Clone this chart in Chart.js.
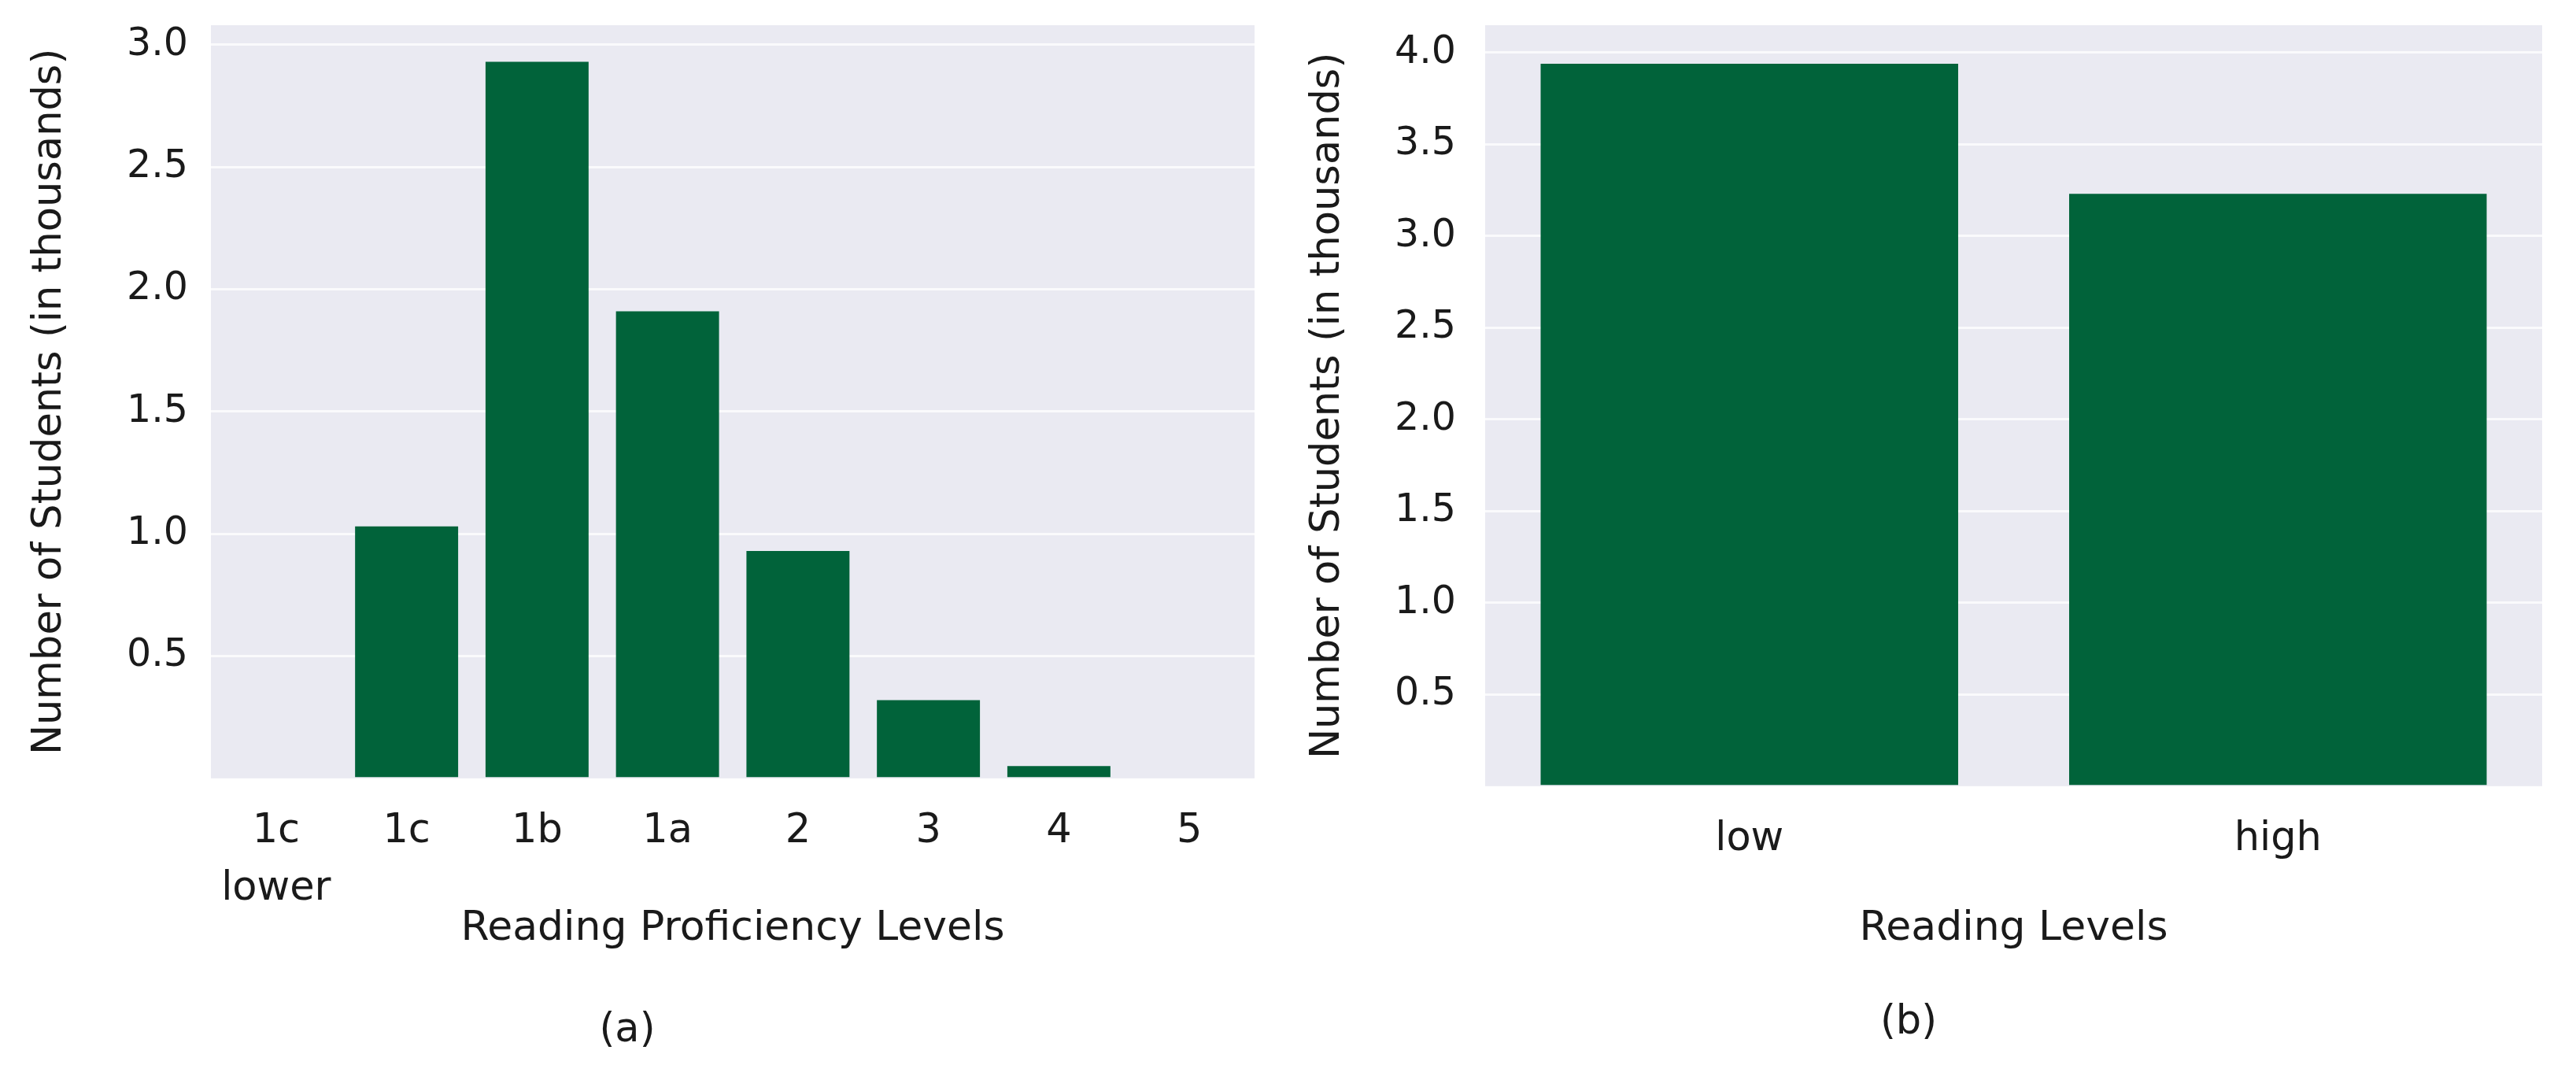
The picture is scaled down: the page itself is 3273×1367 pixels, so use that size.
<!DOCTYPE html>
<html>
<head>
<meta charset="utf-8">
<script src="https://cdn.jsdelivr.net/npm/chart.js@4.4.0/dist/chart.umd.min.js"></script>
<style>
  body { margin: 0; background: #fff; width: 3273px; height: 1367px; overflow: hidden; }
  #wrapA { position: absolute; left: 0; top: 0; width: 1610px; height: 1367px; }
  #wrapB { position: absolute; left: 1620px; top: 0; width: 1653px; height: 1367px; }
</style>
</head>
<body>
<div id="wrapA"><canvas id="chartA" width="1610" height="1367"></canvas></div>
<div id="wrapB"><canvas id="chartB" width="1653" height="1367"></canvas></div>
<script>
// data (counts in thousands)
const levelsA = [["1c", "lower"], "1c", "1b", "1a", "2", "3", "4", "5"];
const countsA = [0, 1.03, 2.93, 1.91, 0.93, 0.32, 0.05, 0];
const levelsB = ["low", "high"];
const countsB = [3.94, 3.23];

const green = "#01633A";
const textColor = "#1a1a1a";
Chart.defaults.font.family = "'DejaVu Sans', sans-serif";
Chart.defaults.color = textColor;

// seaborn-like grey panel behind the bars
const panelBg = {
  id: "panelBg",
  beforeDraw(chart) {
    const { ctx, chartArea: a } = chart;
    ctx.save();
    ctx.fillStyle = "#EAEAF2";
    ctx.fillRect(a.left, a.top, a.right - a.left, a.bottom - a.top);
    ctx.restore();
  }
};

function makeChart(id, labels, values, o) {
  return new Chart(document.getElementById(id), {
    type: "bar",
    data: {
      labels: labels,
      datasets: [{
        data: values,
        backgroundColor: green,
        borderWidth: 0,
        barPercentage: 0.79,
        categoryPercentage: 1
      }]
    },
    options: {
      responsive: false,
      animation: false,
      layout: { padding: { top: 32, right: o.padRight, left: 0, bottom: o.padBottom } },
      plugins: {
        legend: { display: false },
        tooltip: { enabled: false },
        title: {
          display: true,
          position: "bottom",
          text: o.tag,
          font: { size: 51, weight: "normal", lineHeight: 1.2 },
          padding: 0,
          color: textColor
        }
      },
      scales: {
        x: {
          grid: { display: false, drawTicks: false },
          border: { display: false },
          ticks: { font: { size: 51, lineHeight: 1.44 }, padding: 31, maxRotation: 0, autoSkip: false, color: textColor },
          title: { display: true, text: o.xTitle, font: { size: 52, lineHeight: 1.2 }, padding: { top: 0, bottom: o.xTitlePad }, color: textColor },
          afterFit: s => { s.height = o.xHeight; s.paddingLeft = 0; s.paddingRight = 0; }
        },
        y: {
          min: 0,
          max: o.yMax,
          grid: {
            drawTicks: false,
            color: c => c.tick && c.tick.value === 0 ? "rgba(0,0,0,0)" : "#FAFAFC",
            lineWidth: 3
          },
          border: { display: false },
          ticks: {
            stepSize: 0.5,
            includeBounds: false,
            padding: o.yTickPad,
            font: { size: 49 },
            color: textColor,
            callback: v => v === 0 ? "" : v.toFixed(1)
          },
          title: { display: true, text: "Number of Students (in thousands)", font: { size: 51, lineHeight: 1.2 }, padding: { top: o.yTitlePad, bottom: 0 }, color: textColor },
          afterFit: s => { s.width = o.yWidth; s.paddingTop = 0; s.paddingBottom = 0; }
        }
      }
    },
    plugins: [panelBg]
  });
}

makeChart("chartA", levelsA, countsA, {
  tag: "(a)", xTitle: "Reading Proficiency Levels",
  yMax: 3.08, padRight: 16, padBottom: 27, xHeight: 290, xTitlePad: 67,
  yWidth: 268, yTickPad: 29, yTitlePad: 33
});

makeChart("chartB", levelsB, countsB, {
  tag: "(b)", xTitle: "Reading Levels",
  yMax: 4.15, padRight: 43, padBottom: 37, xHeight: 270, xTitlePad: 57,
  yWidth: 267, yTickPad: 37, yTitlePad: 37
});
</script>
</body>
</html>
